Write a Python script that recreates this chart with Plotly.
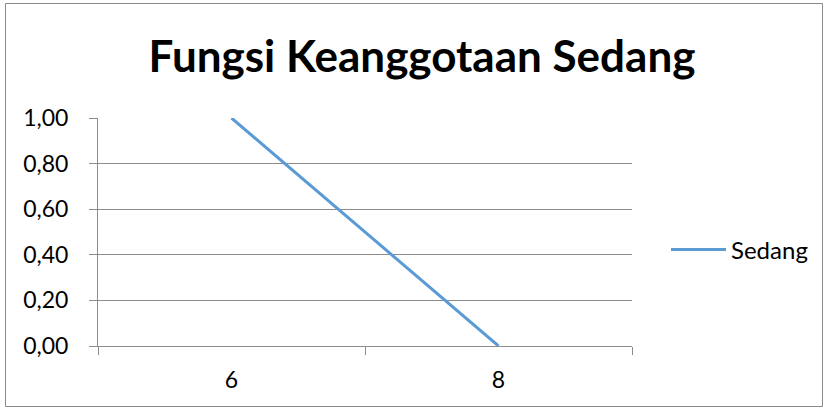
import plotly.graph_objects as go

categories = ["6", "8"]
sedang = [1.00, 0.00]
series_name = "Sedang"
title_text = "Fungsi Keanggotaan Sedang"
y_ticks = [0.0, 0.2, 0.4, 0.6, 0.8, 1.0]

W, H = 824, 408
L, R, T, B = 98, 632, 118, 346  # plot area in pixels
pw, ph = R - L, B - T

def px_x(p):
    return (p - L) / pw

def px_y(p):
    return (B - p) / ph

font = "Lato"
grid = "#8c8c8c"

fig = go.Figure()
fig.add_trace(go.Scatter(
    x=categories, y=sedang, mode="lines", name=series_name,
    line=dict(color="#5B9BD5", width=3),
    showlegend=True,
))

fig.update_layout(
    width=W, height=H,
    margin=dict(l=L, r=W - R, t=T, b=H - B, autoexpand=False),
    paper_bgcolor="white", plot_bgcolor="white",
    separators=",.",
    font=dict(family=font, size=23, color="black"),
    title=dict(text="<b>" + title_text + "</b>", x=422 / W, xanchor="center",
               xref="container", yref="container", y=1 - 57 / H, yanchor="middle",
               font=dict(family=font, size=44, color="black")),
    showlegend=True,
    legend=dict(x=px_x(666), xanchor="left", y=px_y(250), yanchor="middle",
                itemwidth=55,
                font=dict(family=font, size=24, color="black"),
                bgcolor="rgba(0,0,0,0)"),
    shapes=[dict(type="rect", xref="paper", yref="paper",
                 x0=px_x(5.5), x1=px_x(822.5), y0=px_y(406.5), y1=px_y(3.5),
                 line=dict(color="#898989", width=1), layer="below")],
)

fig.update_xaxes(
    type="category", range=[-0.5, 1.5],
    showgrid=False, showline=True, linecolor=grid, linewidth=1,
    ticks="outside", tickson="boundaries", ticklen=8, tickcolor=grid,
    ticklabelstandoff=13, zeroline=False,
    tickfont=dict(family=font, size=23, color="black"),
)
fig.update_yaxes(
    range=[0, 1], tickvals=y_ticks, tickformat=".2f",
    showgrid=True, gridcolor=grid, gridwidth=1,
    showline=True, linecolor=grid, linewidth=1,
    ticks="outside", ticklen=8, tickcolor=grid,
    ticklabelstandoff=16, zeroline=False,
    tickfont=dict(family=font, size=23, color="black"),
)

fig.write_html("out.html")
